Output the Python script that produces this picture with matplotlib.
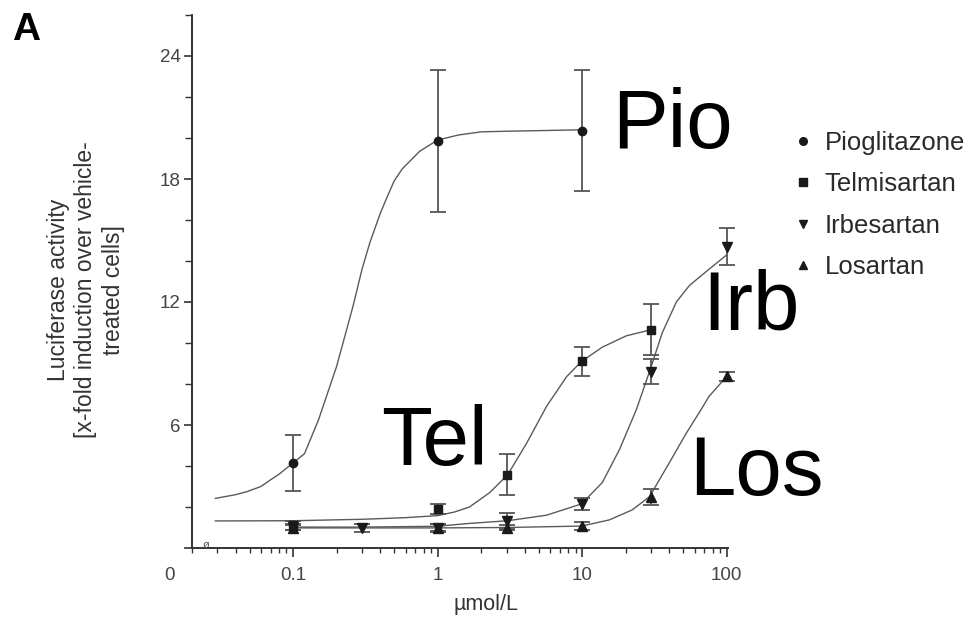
import matplotlib
matplotlib.use("Agg")
import matplotlib.pyplot as plt
from matplotlib.lines import Line2D
from matplotlib.ticker import LogLocator, MultipleLocator, NullFormatter
import numpy as np

plt.rcParams["font.family"] = ["Liberation Sans", "DejaVu Sans"]

W, H = 979, 617

# measured points (mean +/- error)
dose_pio = [0.1, 1, 10]
pio_mean = [4.15, 19.85, 20.35]
pio_err = [1.37, 3.45, 2.95]

dose_tel = [0.1, 1, 3, 10, 30]
tel_mean = [1.1, 1.9, 3.57, 9.1, 10.65]
tel_err = [0.2, 0.25, 1.0, 0.7, 1.25]

dose_irb = [0.1, 0.3, 1, 3, 10, 30, 100]
irb_mean = [1.02, 0.98, 1.0, 1.33, 2.15, 8.6, 14.7]
irb_err = [0.15, 0.2, 0.15, 0.38, 0.3, 0.6, 0.9]

dose_los = [0.1, 1, 3, 10, 30, 100]
los_mean = [1.0, 0.98, 1.0, 1.07, 2.5, 8.37]
los_err = [0.12, 0.2, 0.12, 0.2, 0.4, 0.2]

# fitted curves
pio_cx = [0.029, 0.04, 0.048, 0.06, 0.069, 0.08, 0.1, 0.12, 0.15, 0.2, 0.26, 0.3,
          0.34, 0.4, 0.44, 0.5, 0.57, 0.65, 0.75, 1.0, 1.4, 2.0, 3.0, 4.3, 6.0, 10]
pio_cy = [2.42, 2.6, 2.75, 3.0, 3.3, 3.6, 4.15, 4.6, 6.25, 8.85, 11.8, 13.6,
          14.9, 16.3, 17.0, 17.9, 18.5, 18.9, 19.35, 19.9, 20.15, 20.3, 20.33, 20.35, 20.37, 20.4]

tel_cx = [0.029, 0.1, 0.3, 0.6, 1.0, 1.3, 1.66, 2.29, 3.05, 4.12, 5.66, 7.8, 9.9, 13.8, 20.2, 30]
tel_cy = [1.32, 1.33, 1.4, 1.48, 1.58, 1.75, 2.0, 2.7, 3.57, 5.1, 6.9, 8.36, 9.1, 9.8, 10.35, 10.65]

irb_cx = [0.1, 0.3, 1.0, 1.66, 3.05, 5.66, 9.9, 13.8, 18.1, 23.7, 29.2, 35.8, 44.8, 55.1, 64.4, 75.5, 100]
irb_cy = [1.02, 1.02, 1.06, 1.2, 1.33, 1.6, 2.15, 3.2, 4.8, 6.75, 8.6, 10.5, 12.0, 12.8, 13.2, 13.6, 14.3]

los_cx = [0.1, 1.0, 3.0, 9.9, 15.4, 22.2, 29.2, 40, 52.5, 64.4, 75.5, 100]
los_cy = [0.98, 0.98, 1.0, 1.07, 1.37, 1.86, 2.5, 4.15, 5.6, 6.6, 7.4, 8.37]

series = [
    ("Pioglitazone", "o", 6.0, dose_pio, pio_mean, pio_err, pio_cx, pio_cy),
    ("Telmisartan", "s", 5.5, dose_tel, tel_mean, tel_err, tel_cx, tel_cy),
    ("Irbesartan", "v", 7.0, dose_irb, irb_mean, irb_err, irb_cx, irb_cy),
    ("Losartan", "^", 7.0, dose_los, los_mean, los_err, los_cx, los_cy),
]

short_names = [("Pio", 612, 148), ("Tel", 381, 465), ("Irb", 702, 330), ("Los", 689, 495)]


def fx(px):
    return px / W


def fy(py):
    return 1 - py / H


fig = plt.figure(figsize=(W / 100, H / 100), dpi=100)
ax = fig.add_axes([fx(192), fy(548), (728 - 192) / W, (548 - 15) / H])

mark_col = "#1a1a1a"
line_col = "#5a5a5a"

handles = []
for name, mk, ms, xd, yd, ed, cx, cy in series:
    ax.plot(cx, cy, color=line_col, lw=1.0, zorder=2, clip_on=False)
    ax.errorbar(xd, yd, yerr=ed, fmt="none", ecolor="#555555", elinewidth=1.3,
                capsize=6, capthick=1.3, zorder=3, clip_on=False)
    ax.plot(xd, yd, ls="none", marker=mk, ms=ms, color=mark_col, zorder=4, clip_on=False)
    handles.append(Line2D([], [], ls="none", marker=mk, ms=5.5, color=mark_col, label=name))

ax.set_xscale("log")
ax.set_xlim(0.02, 102)
ax.set_ylim(0, 26)

ax.set_xticks([0.1, 1, 10, 100])
ax.set_xticklabels(["0.1", "1", "10", "100"])
ax.xaxis.set_minor_locator(LogLocator(base=10, subs=np.arange(2, 10)))
ax.xaxis.set_minor_formatter(NullFormatter())
ax.set_yticks([0, 6, 12, 18, 24])
ax.set_yticklabels(["", "6", "12", "18", "24"])
ax.yaxis.set_minor_locator(MultipleLocator(2))

for side in ("top", "right"):
    ax.spines[side].set_visible(False)
for side in ("left", "bottom"):
    ax.spines[side].set_color("#333333")
    ax.spines[side].set_linewidth(1.4)

ax.tick_params(axis="both", which="both", direction="out", color="#333333",
               labelcolor="#444444", labelsize=13.5)
ax.tick_params(axis="y", which="major", length=6, width=1.2, pad=2)
ax.tick_params(axis="y", which="minor", length=5, width=1.0)
ax.tick_params(axis="x", which="major", length=6.5, width=1.2, pad=7)
ax.tick_params(axis="x", which="minor", length=3.5, width=1.0)

# origin label and small break mark
fig.text(fx(170), fy(576), "0", ha="center", va="center", fontsize=13.5, color="#444444")
fig.text(fx(206), fy(545), "ø", ha="center", va="center", fontsize=8, color="#555555")

fig.text(fx(486), fy(610), "µmol/L", ha="center", va="baseline", fontsize=15.5, color="#333333")
fig.text(fx(86), fy(290), "Luciferase activity\n[x-fold induction over vehicle-\ntreated cells]",
         rotation=90, ha="center", va="center", multialignment="center",
         fontsize=16.5, linespacing=1.25, color="#333333")

fig.text(fx(12), fy(40), "A", fontsize=28, fontweight="bold", va="baseline", ha="left")

for label, px, py in short_names:
    fig.text(fx(px), fy(py), label, fontsize=60, va="baseline", ha="left", color="black")

fig.legend(handles=handles, loc="upper left", bbox_to_anchor=(fx(795), fy(131)),
           bbox_transform=fig.transFigure, frameon=False, fontsize=18.5, borderpad=0,
           borderaxespad=0, handlelength=0.6, handletextpad=0.55, labelspacing=0.68,
           labelcolor="#2a2a2a")

fig.savefig("out.png", dpi=100)
